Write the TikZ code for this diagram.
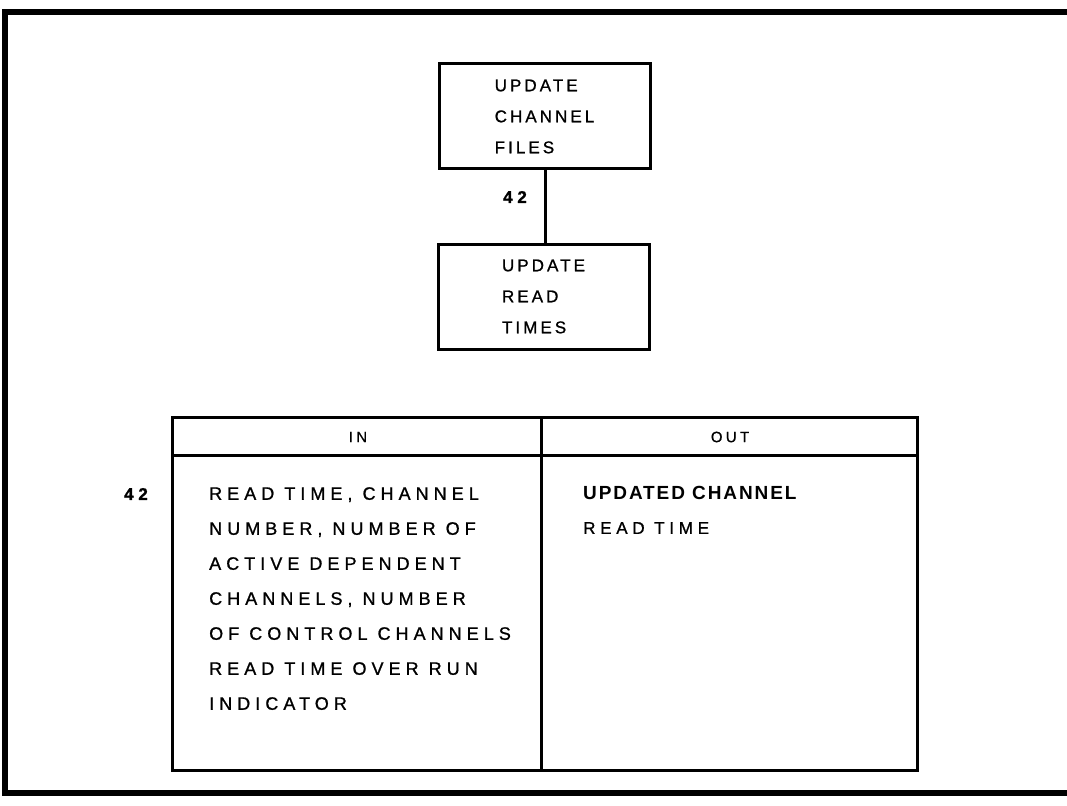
\documentclass[tikz,border=0pt]{standalone}
\usepackage{fontspec}
\setmainfont{Liberation Sans}
\newfontfamily\spfont[LetterSpace=28,FakeBold=1]{Liberation Sans}
\newfontfamily\bxfont[LetterSpace=18,FakeBold=1]{Liberation Sans}
\newfontfamily\hdfont[LetterSpace=22,FakeBold=0.6]{Liberation Sans}
\newfontfamily\bdfont[LetterSpace=10]{Liberation Sans}
\begin{document}
\begin{tikzpicture}[x=1pt,y=-1pt,
  procbox/.style={draw, line width=3pt, minimum width=211pt, minimum height=105pt, inner sep=0pt, align=left,
    font=\bxfont\fontsize{17}{31}\selectfont},
  cell/.style={inner sep=0pt, align=left, anchor=north west},
  lbl/.style={inner sep=0pt, font=\spfont\bfseries\fontsize{17}{18}\selectfont},
  rule/.style={line width=3pt},
  frame/.style={line width=6pt}]
\useasboundingbox (0,0) rectangle (1067,805);
% outer frame (open on the right)
\draw[frame] (1070,12) -- (5,12) -- (5,793) -- (1070,793);
% process boxes
\node[procbox] (ucf) at (544.5,116.5) {UPDATE\\CHANNEL\\FILES};
\node[procbox] (urt) at (543.5,296.5) {UPDATE\\READ\\TIMES};
\draw[rule] (ucf.south -| 545,0) -- (urt.north -| 545,0);
\node[lbl] (l42a) at (515,197) {42};
% table
\coordinate (tnw) at (172,417);
\coordinate (tse) at (917,770);
\draw[rule] (tnw) rectangle (tse);
\draw[rule] (172,455) -- (917,455);
\draw[rule] (541,417) -- (541,770);
\node[inner sep=0pt, font=\hdfont\fontsize{15}{17}\selectfont] (hin) at (358,437) {IN};
\node[inner sep=0pt, font=\hdfont\fontsize{15}{17}\selectfont] (hout) at (730,437) {OUT};
\node[lbl] (l42b) at (136,494) {42};
\node[cell, font=\spfont\fontsize{18}{35}\selectfont] (inlist) at (209,487)
  {READ TIME, CHANNEL\\NUMBER, NUMBER OF\\ACTIVE DEPENDENT\\CHANNELS, NUMBER\\OF CONTROL CHANNELS\\READ TIME OVER RUN\\INDICATOR};
\node[cell, font=\bdfont\bfseries\fontsize{19}{21}\selectfont] (outa) at (583,486) {UPDATED CHANNEL};
\node[cell, font=\spfont\fontsize{17}{18}\selectfont] (outb) at (583,522) {READ TIME};
\end{tikzpicture}
\end{document}
